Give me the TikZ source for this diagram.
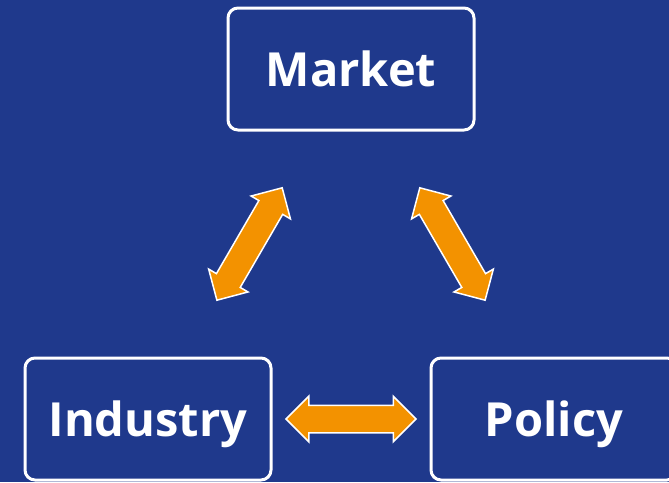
\documentclass[tikz,border=0pt]{standalone}
\usepackage{fontspec}
\setmainfont{Open Sans}
\usetikzlibrary{shapes.arrows}
\definecolor{bgblue}{RGB}{31,57,140}
\definecolor{arroworange}{RGB}{243,146,0}

\begin{document}
\begin{tikzpicture}[x=1pt, y=-1pt,
  box/.style={rectangle, draw=white, line width=3pt, rounded corners=10pt,
    minimum width=246pt, minimum height=122pt, text=white,
    text height=34pt, text depth=0pt,
    font=\fontsize{47}{50}\selectfont\bfseries},
  twoway/.style={double arrow, fill=arroworange, draw=white, line width=1.5pt,
    minimum height=130pt, inner xsep=0pt, inner ysep=13pt,
    double arrow head extend=9pt, sloped}]
\useasboundingbox (0,0) rectangle (669,482);
\clip (0,0) rectangle (669,482);
\fill[bgblue] (0,0) rectangle (669,482);
% the three boxes
\node[box] (market) at (351,69) {Market};
\node[box] (industry) at (148,419) {Industry};
\node[box] (policy) at (554,419) {Policy};
% links between them
\path (market) -- node[twoway] {} (industry);
\path (market) -- node[twoway] {} (policy);
\path (industry) -- node[twoway] {} (policy);
\end{tikzpicture}
\end{document}
